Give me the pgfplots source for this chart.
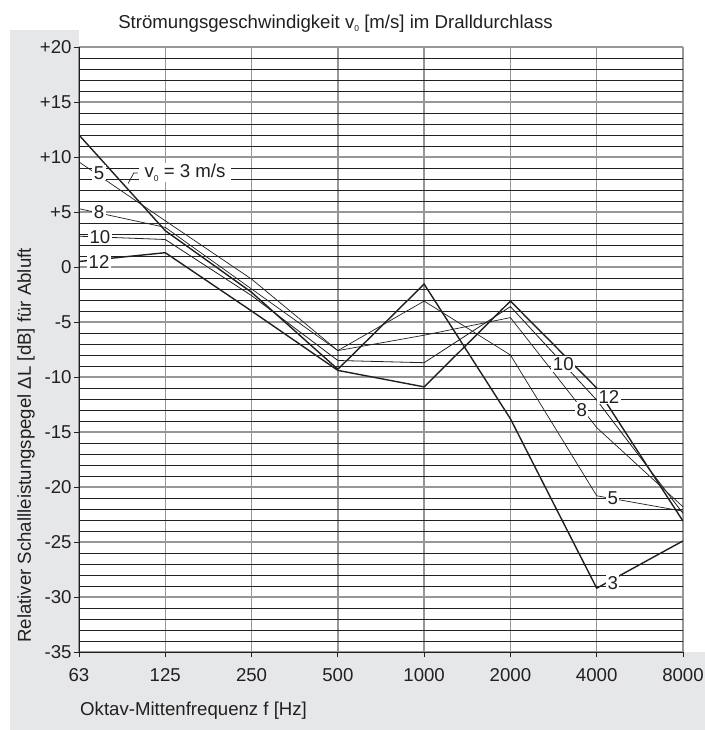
\documentclass[border=0pt]{standalone}
\usepackage{fontspec}
\setmainfont{Liberation Sans}
\usepackage{pgfplots}
\pgfplotsset{compat=1.18}

\definecolor{bggray}{RGB}{230,231,232}
\definecolor{majgrid}{RGB}{150,150,150}
\definecolor{lineblk}{RGB}{35,31,32}

\newcommand{\vnull}{v\raisebox{-0.35ex}{\fontsize{8.5}{8.5}\selectfont 0}}
\newcommand{\lblfont}{\fontsize{18.7}{21}\selectfont}

\begin{document}
\begin{tikzpicture}
\path[use as bounding box] (0bp,0bp) rectangle (705bp,730bp);
\fill[white] (0bp,0bp) rectangle (705bp,730bp);
\fill[bggray] (10bp,0bp) rectangle (79bp,700bp);
\fill[bggray] (10bp,0bp) rectangle (705bp,78bp);
\begin{axis}[
  at={(79bp,78bp)}, anchor=south west,
  scale only axis, width=604bp, height=605bp,
  xmin=0, xmax=7, ymin=-35, ymax=20,
  xtick={0,...,7},
  xticklabels={63,125,250,500,1000,2000,4000,8000},
  ytick={-35,-30,...,20},
  yticklabels={-35,-30,-25,-20,-15,-10,-5,0,+5,+10,+15,+20},
  minor ytick={-34,-33,...,19},
  grid=both,
  major grid style={majgrid, line width=1.3bp},
  minor grid style={lineblk, line width=0.7bp},
  axis lines*=left,
  axis line style={-, lineblk, line width=0.8bp},
  tick align=outside,
  major tick length=5bp, minor tick length=0pt,
  tick style={lineblk, line width=0.8bp},
  ticklabel style={font=\lblfont, text=lineblk},
  xticklabel style={yshift=-8bp},
  yticklabel style={xshift=1bp},
]
\addplot[lineblk, line width=1.4bp] coordinates {(0,12.0)(1,3.3)(2,-2.3)(3,-9.3)(4,-1.55)(5,-13.8)(6,-29.2)(7,-24.9)};
\addplot[lineblk, line width=0.7bp] coordinates {(0,9.55)(1,4.2)(2,-1.1)(3,-7.6)(4,-3.1)(5,-8.0)(6,-20.8)(7,-22.2)};
\addplot[lineblk, line width=0.7bp] coordinates {(0,5.3)(1,3.6)(2,-2.0)(3,-7.6)(4,-6.2)(5,-4.6)(6,-14.6)(7,-21.8)};
\addplot[lineblk, line width=0.8bp] coordinates {(0,2.8)(1,2.5)(2,-2.6)(3,-8.5)(4,-8.7)(5,-3.6)(6,-12.1)(7,-22.4)};
\addplot[lineblk, line width=1.4bp] coordinates {(0,0.5)(1,1.3)(2,-4.0)(3,-9.4)(4,-10.9)(5,-3.1)(6,-11.0)(7,-23.1)};

\draw[lineblk, line width=0.7bp] (axis cs:0.68,8.55) -- (axis cs:0.635,8.55) -- (axis cs:0.57,7.6);

\tikzset{lbl/.style={fill=white, inner xsep=1.5bp, inner ysep=1bp, font=\lblfont, text=lineblk}}
\node[lbl] at (axis cs:0.232,8.57) {5};
\node[lbl, inner xsep=6bp] at (axis cs:1.228,8.57) {\vnull{} = 3 m/s};
\node[lbl] at (axis cs:0.232,5.03) {8};
\node[lbl] at (axis cs:0.243,2.75) {10};
\node[lbl] at (axis cs:0.232,0.48) {12};
\node[lbl] at (axis cs:5.613,-8.82) {10};
\node[lbl] at (axis cs:6.142,-11.79) {12};
\node[lbl] at (axis cs:5.826,-13.0) {8};
\node[lbl] at (axis cs:6.185,-21.03) {5};
\node[lbl] at (axis cs:6.185,-28.7) {3};
\end{axis}
\node[anchor=base, font=\lblfont, text=lineblk] at (335.5bp,701.7bp) {Strömungsgeschwindigkeit \vnull{} [m/s] im Dralldurchlass};
\node[rotate=90, anchor=center, font=\lblfont, text=lineblk] at (26bp,284.5bp) {Relativer Schallleistungspegel ΔL [dB] für Abluft};
\node[anchor=base west, font=\lblfont, text=lineblk, inner sep=0pt] at (80bp,14.5bp) {Oktav-Mittenfrequenz f [Hz]};
\end{tikzpicture}
\end{document}
